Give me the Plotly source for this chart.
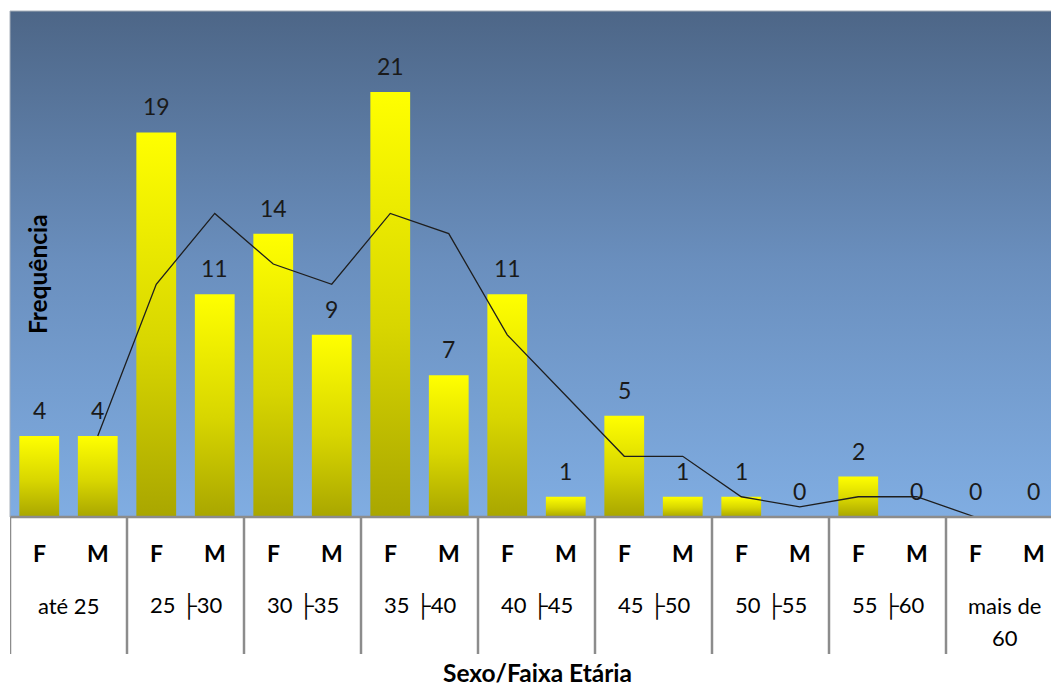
import plotly.graph_objects as go

# Age bands and sexes for the two-level category axis
groups = ["até 25", "25 ├30", "30 ├35", "35 ├40", "40 ├45",
          "45 ├50", "50 ├55", "55 ├60", "mais de<br>60"]
sexes = ["F", "M"]

# Frequency per age band
freq_f = [4, 19, 14, 21, 11, 5, 1, 2, 0]
freq_m = [4, 11, 9, 7, 1, 1, 0, 0, 0]

# Two-period moving-average trendline (one value per column)
trend = [None, 4, 11.5, 15, 12.5, 11.5, 15, 14, 9, 6, 3, 3, 1, 0.5, 1, 1, 0, None]

FONT = "Lato"
Y_MAX = 25
BAR_HALF = 0.34
UNIT_PX = 58.5
PLOT_LEFT = 10
W, H = 1051, 687
PLOT_TOP, PLOT_BOTTOM = 11, 517

values = []
labels = []
for g, f, m in zip(groups, freq_f, freq_m):
    values += [f, m]
    labels += sexes
n = len(values)
xs = list(range(n))
x_hi = (W - PLOT_LEFT) / UNIT_PX - 0.5

fig = go.Figure()

# plot-area background: dark slate at the top fading to light blue
fig.add_trace(go.Scatter(
    x=[-0.5, n - 0.5, n - 0.5, -0.5, -0.5], y=[0, 0, Y_MAX, Y_MAX, 0],
    mode="lines", line=dict(width=0), fill="toself",
    fillgradient=dict(type="vertical",
                      colorscale=[[0, "#80ADE2"], [0.5, "#6A8FBE"], [1, "#4D6687"]]),
    hoverinfo="skip", showlegend=False))

# bars with yellow-to-olive vertical gradient
for x, v in zip(xs, values):
    if v <= 0:
        continue
    fig.add_trace(go.Scatter(
        x=[x - BAR_HALF, x + BAR_HALF, x + BAR_HALF, x - BAR_HALF, x - BAR_HALF],
        y=[0, 0, v, v, 0],
        mode="lines", line=dict(width=0), fill="toself",
        fillgradient=dict(type="vertical",
                          colorscale=[[0, "#A9A600"], [0.45, "#D8D600"], [1, "#FFFF00"]]),
        hoverinfo="skip", showlegend=False))

# trendline
fig.add_trace(go.Scatter(
    x=xs, y=trend, mode="lines", line=dict(color="#1E1E1E", width=1.3),
    connectgaps=False, hoverinfo="skip", showlegend=False))

ann = []
# value labels above each column
for x, v in zip(xs, values):
    ann.append(dict(x=x, y=v, xref="x", yref="y", text=str(v), showarrow=False,
                    yshift=26, yanchor="middle",
                    font=dict(family=FONT, size=23, color="#1A1A1A")))
# sex labels
for x, s in zip(xs, labels):
    ann.append(dict(x=x, y=0, xref="x", yref="y", text=f"<b>{s}</b>", showarrow=False,
                    yshift=-36, yanchor="middle",
                    font=dict(family=FONT, size=23, color="#000000")))
# age-band labels (multi-line labels stacked line by line)
for gi, g in enumerate(groups):
    for li, line in enumerate(g.split("<br>")):
        ann.append(dict(x=2 * gi + 0.5, y=0, xref="x", yref="y", text=line,
                        showarrow=False, yshift=-88 - 32 * li, yanchor="middle",
                        font=dict(family=FONT, size=22, color="#000000")))
# axis titles
ann.append(dict(x=(537 - PLOT_LEFT) / (W - PLOT_LEFT), y=0, xref="paper", yref="y",
                text="<b>Sexo/Faixa Etária</b>", showarrow=False, yshift=-155,
                yanchor="middle", font=dict(family=FONT, size=24.5, color="#000000")))
ann.append(dict(x=27 / (W - PLOT_LEFT), y=12, xref="paper", yref="y",
                text="<b>Frequência</b>", showarrow=False, textangle=-90,
                xanchor="center", yanchor="middle",
                font=dict(family=FONT, size=24.5, color="#000000")))

shapes = []
# vertical separators between age bands
for gi in range(len(groups) + 1):
    xb = 2 * gi - 0.5
    if xb > x_hi:
        continue
    shapes.append(dict(type="line", xref="x", yref="paper", x0=xb, x1=xb,
                       y0=0, y1=-(654 - PLOT_BOTTOM) / (PLOT_BOTTOM - PLOT_TOP),
                       line=dict(color="#8C8C8C", width=2.5)))
# category axis line
shapes.append(dict(type="line", xref="paper", yref="paper", x0=0, x1=1, y0=0, y1=0,
                   line=dict(color="#8C8C8C", width=2.5)))
# thin frame at top and left of the plot area
shapes.append(dict(type="line", xref="paper", yref="paper", x0=0, x1=1, y0=1, y1=1,
                   line=dict(color="#A8B0BA", width=1)))
shapes.append(dict(type="line", xref="paper", yref="paper", x0=0, x1=0, y0=0, y1=1,
                   line=dict(color="#A8B0BA", width=1)))

fig.update_layout(
    width=W, height=H,
    margin=dict(l=PLOT_LEFT, r=0, t=PLOT_TOP, b=H - PLOT_BOTTOM, pad=0),
    paper_bgcolor="#FFFFFF", plot_bgcolor="#FFFFFF",
    xaxis=dict(range=[-0.5, x_hi], showgrid=False, zeroline=False,
               showticklabels=False, ticks="", showline=False, fixedrange=True),
    yaxis=dict(range=[0, Y_MAX], showgrid=False, zeroline=False,
               showticklabels=False, ticks="", showline=False, fixedrange=True),
    annotations=ann, shapes=shapes, showlegend=False,
    font=dict(family=FONT),
)

fig.write_html("out.html", config={"displayModeBar": False})
